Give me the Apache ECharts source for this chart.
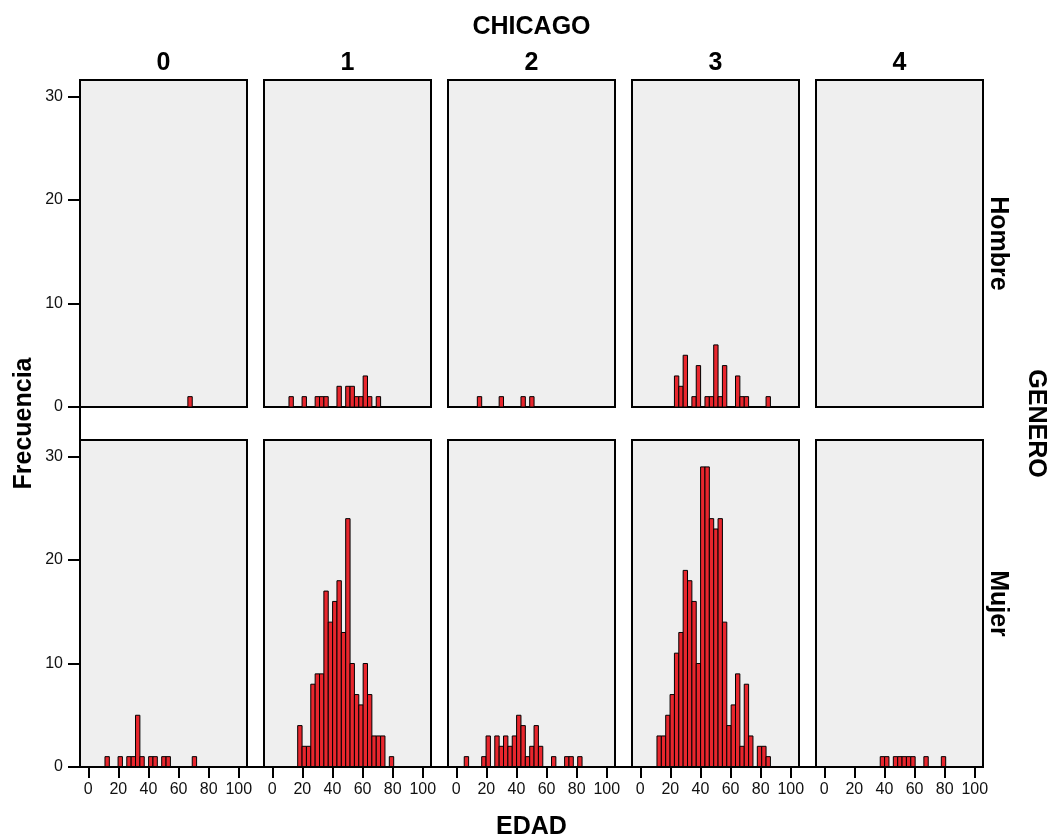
<!DOCTYPE html>
<html>
<head>
<meta charset="utf-8">
<title>EDAD por CHICAGO y GENERO</title>
<script src="https://cdn.jsdelivr.net/npm/echarts@6/dist/echarts.min.js"></script>
<style>
  html, body { margin: 0; padding: 0; background: #fff; }
  #chart { width: 1050px; height: 840px; }
</style>
</head>
<body>
<div id="chart"></div>
<script>
// Histogram bins for EDAD (lower edge of the first bin and common width)
const BIN_START = 2.4;
const BIN_WIDTH = 2.9;

// Facet levels
const chicagoLevels = ['0', '1', '2', '3', '4'];
const generoLevels = ['Hombre', 'Mujer'];

// Counts per bin (bin k covers BIN_START + k*BIN_WIDTH ... + BIN_WIDTH)
const hombre0 = [0,0,0,0,0,0,0,0,0,0,0,0,0,0,0,0,0,0,0,0,0,0,1,0,0,0,0,0,0];
const hombre1 = [0,0,0,1,0,0,1,0,0,1,1,1,0,0,2,0,2,2,1,1,3,1,0,1,0,0,0,0,0];
const hombre2 = [0,0,0,0,1,0,0,0,0,1,0,0,0,0,1,0,1,0,0,0,0,0,0,0,0,0,0,0,0];
const hombre3 = [0,0,0,0,0,0,0,3,2,5,0,1,4,0,1,1,6,1,4,0,0,3,1,1,0,0,0,0,1];
const hombre4 = [0,0,0,0,0,0,0,0,0,0,0,0,0,0,0,0,0,0,0,0,0,0,0,0,0,0,0,0,0];

const mujer0 = [0,0,0,1,0,0,1,0,1,1,5,1,0,1,1,0,1,1,0,0,0,0,0,1,0,0,0,0,0];
const mujer1 = [0,0,0,0,0,4,2,2,8,9,9,17,14,16,18,13,24,10,7,6,10,7,3,3,3,0,1,0,0];
const mujer2 = [0,1,0,0,0,1,3,0,3,2,3,2,3,5,4,1,2,4,2,0,0,1,0,0,1,1,0,1,0];
const mujer3 = [0,0,0,3,3,5,7,11,13,19,18,16,10,29,29,24,23,24,14,4,6,9,2,8,3,0,2,2,1];
const mujer4 = [0,0,0,0,0,0,0,0,0,0,0,0,1,1,0,1,1,1,1,1,0,0,1,0,0,0,1,0,0];

const xTicks = [0, 20, 40, 60, 80, 100];
const yTicks = [0, 10, 20, 30];

const panels = [
  [hombre0, hombre1, hombre2, hombre3, hombre4],
  [mujer0, mujer1, mujer2, mujer3, mujer4]
];

// Layout of the facet grid
const FONT = '"Liberation Sans", Arial, Helvetica, sans-serif';
const LEFT0 = 80, COL_STEP = 184, PANEL_W = 167;
const ROW_TOPS = [80, 440], PANEL_H = 327;
const X_MIN = -5.5, X_MAX = 105.5, Y_MAX = 31.6;
const BAR_FILL = '#e8262d';

const grids = [], xAxes = [], yAxes = [], series = [];

panels.forEach((row, r) => {
  row.forEach((counts, c) => {
    const idx = grids.length;
    grids.push({
      left: LEFT0 + c * COL_STEP,
      top: ROW_TOPS[r],
      width: PANEL_W,
      height: PANEL_H,
      show: true,
      backgroundColor: '#efefef',
      borderColor: '#000',
      borderWidth: 2
    });
    const bottomRow = r === panels.length - 1;
    xAxes.push({
      gridIndex: idx,
      type: 'value',
      position: 'bottom',
      min: X_MIN,
      max: X_MAX,
      axisLine: { show: false, onZero: false },
      splitLine: { show: false },
      axisTick: {
        show: bottomRow,
        inside: false,
        length: 11,
        customValues: xTicks,
        lineStyle: { color: '#000', width: 2 }
      },
      axisLabel: {
        show: bottomRow,
        customValues: xTicks,
        margin: 15,
        fontSize: 16,
        fontFamily: FONT,
        color: '#111'
      }
    });
    const firstCol = c === 0;
    yAxes.push({
      gridIndex: idx,
      type: 'value',
      position: 'left',
      min: 0,
      max: Y_MAX,
      axisLine: { show: false, onZero: false },
      splitLine: { show: false },
      axisTick: {
        show: firstCol,
        inside: false,
        length: 12,
        customValues: yTicks,
        lineStyle: { color: '#000', width: 2 }
      },
      axisLabel: {
        show: firstCol,
        customValues: yTicks,
        margin: 17,
        fontSize: 16,
        fontFamily: FONT,
        color: '#111'
      }
    });
    const data = [];
    counts.forEach((n, k) => {
      if (n > 0) {
        const lo = BIN_START + k * BIN_WIDTH;
        data.push([lo, lo + BIN_WIDTH, n]);
      }
    });
    series.push({
      type: 'custom',
      xAxisIndex: idx,
      yAxisIndex: idx,
      clip: true,
      silent: true,
      encode: { x: [0, 1], y: 2 },
      data: data,
      renderItem: function (params, api) {
        const a = api.coord([api.value(0), api.value(2)]);
        const b = api.coord([api.value(1), 0]);
        return {
          type: 'rect',
          shape: { x: a[0], y: a[1], width: b[0] - a[0], height: b[1] - a[1] },
          style: { fill: BAR_FILL, stroke: '#000', lineWidth: 1 }
        };
      }
    });
  });
});

// Titles and facet labels
const bold = { fontFamily: FONT, fontWeight: 'bold', fontSize: 25, fill: '#000' };
function label(text, x, y, rotation) {
  return {
    type: 'text',
    x: x, y: y,
    rotation: rotation || 0,
    silent: true,
    style: Object.assign({
      text: text,
      align: 'center', verticalAlign: 'middle',
      textAlign: 'center', textVerticalAlign: 'middle'
    }, bold)
  };
}

const lastRowBottom = ROW_TOPS[ROW_TOPS.length - 1] + PANEL_H;
const lastColRight = LEFT0 + (chicagoLevels.length - 1) * COL_STEP + PANEL_W;
const centerX = (LEFT0 + lastColRight) / 2;
const centerY = (ROW_TOPS[0] + lastRowBottom) / 2;

const graphics = [
  // continuous outer axis lines along the left and bottom of the facet grid
  { type: 'line', silent: true, z: 10,
    shape: { x1: LEFT0, y1: ROW_TOPS[0], x2: LEFT0, y2: lastRowBottom },
    style: { stroke: '#000', lineWidth: 2 } },
  { type: 'line', silent: true, z: 10,
    shape: { x1: LEFT0, y1: lastRowBottom, x2: lastColRight, y2: lastRowBottom },
    style: { stroke: '#000', lineWidth: 2 } },
  label('CHICAGO', centerX, 27),
  label('EDAD', centerX, 827),
  label('Frecuencia', 24, centerY, Math.PI / 2),
  label('GENERO', 1036, centerY, -Math.PI / 2)
];
chicagoLevels.forEach((lv, c) => {
  graphics.push(label(lv, LEFT0 + c * COL_STEP + PANEL_W / 2, 63));
});
generoLevels.forEach((lv, r) => {
  graphics.push(label(lv, 998, ROW_TOPS[r] + PANEL_H / 2, -Math.PI / 2));
});

const chart = echarts.init(document.getElementById('chart'), null, { renderer: 'canvas' });
chart.setOption({
  animation: false,
  backgroundColor: '#fff',
  grid: grids,
  xAxis: xAxes,
  yAxis: yAxes,
  series: series,
  graphic: { elements: graphics }
});
</script>
</body>
</html>
